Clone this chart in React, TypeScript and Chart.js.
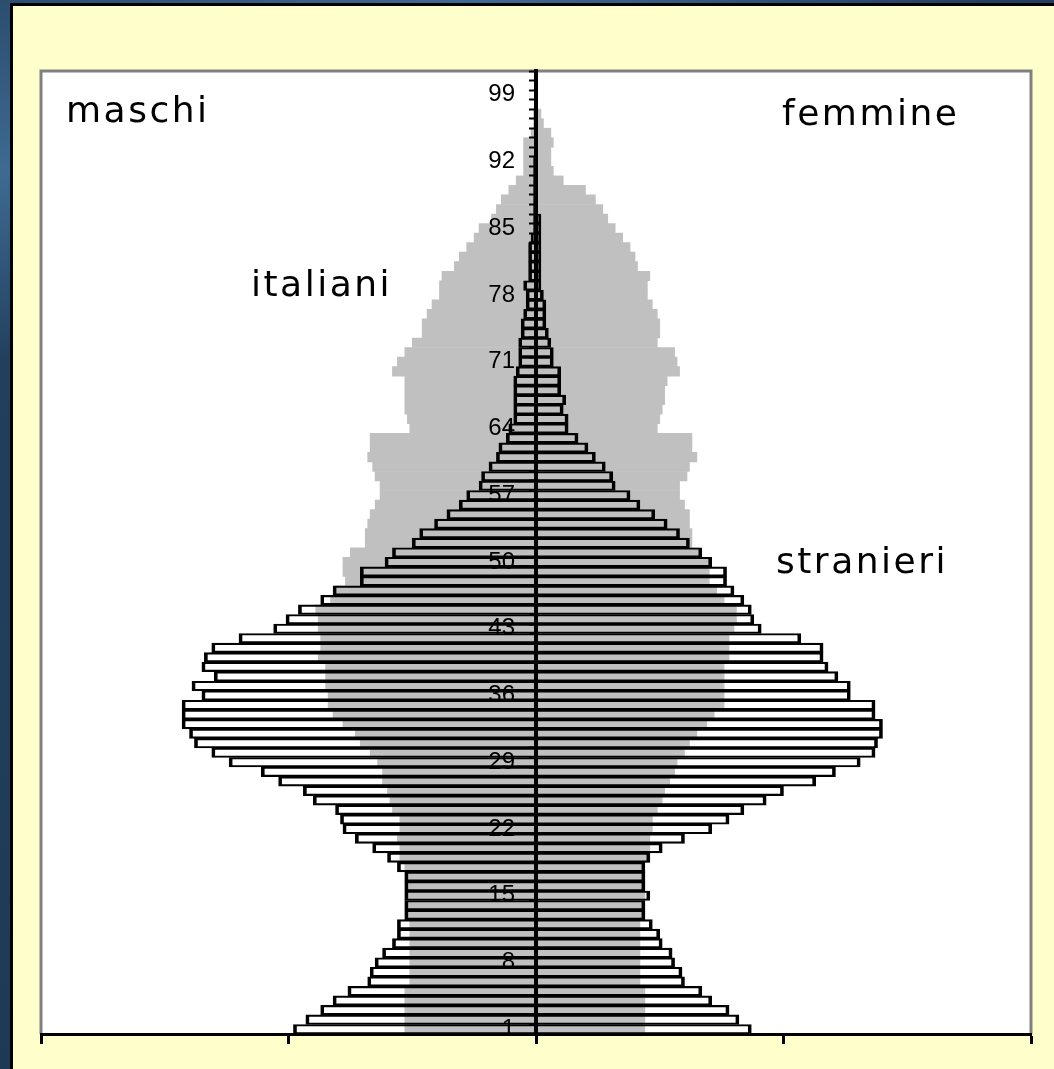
import React, { useEffect, useRef } from "react";
import { Chart, registerables } from "chart.js";

Chart.register(...registerables);

// Age classes (years), bottom to top
const AGES: string[] = Array.from({ length: 101 }, (_, i) => String(i + 1));
const AGE_TICK_LABELS = ["1", "8", "15", "22", "29", "36", "43", "50", "57", "64", "71", "78", "85", "92", "99"];

// Italiani (grey area), % per single year of age
const ITALIANI_MASCHI = [
  0.53, 0.53, 0.53, 0.53, 0.53, 0.51, 0.51, 0.51, 0.51, 0.51,
  0.51, 0.51, 0.53, 0.53, 0.53, 0.53, 0.53, 0.53, 0.55, 0.55,
  0.56, 0.55, 0.55, 0.58, 0.59, 0.60, 0.62, 0.62, 0.64, 0.67,
  0.71, 0.73, 0.78, 0.82, 0.84, 0.84, 0.85, 0.85, 0.85, 0.88,
  0.87, 0.87, 0.88, 0.88, 0.89, 0.83, 0.81, 0.77, 0.78, 0.78,
  0.75, 0.69, 0.69, 0.68, 0.67, 0.65, 0.63, 0.63, 0.65, 0.66,
  0.68, 0.67, 0.67, 0.51, 0.52, 0.53, 0.53, 0.53, 0.53, 0.58,
  0.56, 0.53, 0.50, 0.46, 0.46, 0.44, 0.42, 0.39, 0.39, 0.38,
  0.33, 0.31, 0.28, 0.25, 0.23, 0.18, 0.16, 0.14, 0.11, 0.08,
  0.05, 0.05, 0.05, 0.05, 0.02, 0.01, 0.01, 0, 0, 0, 0,
];
const ITALIANI_FEMMINE = [
  0.44, 0.44, 0.44, 0.44, 0.44, 0.42, 0.42, 0.42, 0.42, 0.42,
  0.42, 0.42, 0.44, 0.44, 0.44, 0.44, 0.44, 0.43, 0.46, 0.46,
  0.46, 0.47, 0.47, 0.49, 0.51, 0.52, 0.54, 0.56, 0.57, 0.60,
  0.62, 0.65, 0.69, 0.72, 0.76, 0.76, 0.76, 0.76, 0.76, 0.78,
  0.78, 0.78, 0.80, 0.81, 0.81, 0.76, 0.73, 0.70, 0.70, 0.70,
  0.66, 0.63, 0.63, 0.62, 0.62, 0.60, 0.58, 0.58, 0.61, 0.62,
  0.65, 0.63, 0.63, 0.49, 0.50, 0.51, 0.52, 0.52, 0.53, 0.58,
  0.57, 0.56, 0.49, 0.50, 0.50, 0.49, 0.47, 0.45, 0.45, 0.46,
  0.41, 0.40, 0.38, 0.35, 0.32, 0.29, 0.27, 0.24, 0.20, 0.11,
  0.07, 0.06, 0.06, 0.07, 0.06, 0.03, 0.02, 0, 0, 0, 0,
];

// Stranieri (outlined bars), % per single year of age
const STRANIERI_MASCHI = [
  0.98, 0.93, 0.87, 0.82, 0.76, 0.68, 0.67, 0.65, 0.62, 0.58,
  0.56, 0.56, 0.53, 0.53, 0.53, 0.53, 0.53, 0.56, 0.60, 0.66,
  0.73, 0.78, 0.79, 0.81, 0.90, 0.94, 1.04, 1.11, 1.24, 1.31,
  1.38, 1.40, 1.43, 1.43, 1.43, 1.35, 1.39, 1.30, 1.35, 1.34,
  1.31, 1.20, 1.06, 1.01, 0.96, 0.87, 0.82, 0.71, 0.71, 0.61,
  0.58, 0.50, 0.47, 0.41, 0.36, 0.31, 0.28, 0.23, 0.22, 0.19,
  0.16, 0.15, 0.12, 0.11, 0.09, 0.09, 0.09, 0.09, 0.09, 0.08,
  0.07, 0.07, 0.07, 0.06, 0.06, 0.05, 0.04, 0.04, 0.05, 0.03,
  0.03, 0.03, 0.03, 0.02, 0.01, 0.01, 0.01, 0.01, 0.01, 0.01,
  0.01, 0.01, 0.005, 0.005, 0.005, 0.005, 0.005, 0, 0, 0, 0,
];
const STRANIERI_FEMMINE = [
  0.87, 0.82, 0.78, 0.71, 0.67, 0.60, 0.59, 0.56, 0.55, 0.51,
  0.50, 0.47, 0.44, 0.44, 0.46, 0.44, 0.44, 0.44, 0.46, 0.51,
  0.60, 0.71, 0.78, 0.84, 0.93, 1.00, 1.13, 1.21, 1.31, 1.37,
  1.38, 1.40, 1.40, 1.37, 1.37, 1.27, 1.27, 1.22, 1.18, 1.16,
  1.16, 1.07, 0.91, 0.88, 0.87, 0.84, 0.80, 0.77, 0.77, 0.71,
  0.67, 0.62, 0.58, 0.53, 0.48, 0.42, 0.38, 0.32, 0.31, 0.28,
  0.24, 0.21, 0.17, 0.13, 0.13, 0.11, 0.12, 0.10, 0.10, 0.10,
  0.07, 0.07, 0.06, 0.05, 0.04, 0.04, 0.04, 0.03, 0.02, 0.02,
  0.02, 0.02, 0.02, 0.02, 0.02, 0.02, 0.005, 0.005, 0.005, 0.005,
  0.005, 0.005, 0.005, 0.005, 0.005, 0.005, 0.005, 0, 0, 0, 0,
];

const X_MIN = -2;
const X_MAX = 2;

const ANNOTATIONS = [
  { text: "maschi", x: 66, y: 122 },
  { text: "femmine", x: 782, y: 125 },
  { text: "italiani", x: 251, y: 296 },
  { text: "stranieri", x: 776, y: 573 },
];

const plotBackground = {
  id: "plotBackground",
  beforeDraw(chart: any) {
    const { ctx, chartArea } = chart;
    const { left, top, right, bottom } = chartArea;
    ctx.save();
    ctx.fillStyle = "#ffffff";
    ctx.fillRect(left, top, right - left, bottom - top);
    ctx.strokeStyle = "#808080";
    ctx.lineWidth = 3;
    ctx.beginPath();
    ctx.moveTo(left, bottom);
    ctx.lineTo(left, top);
    ctx.lineTo(right, top);
    ctx.lineTo(right, bottom);
    ctx.stroke();
    ctx.restore();
  },
};

const annotationText = {
  id: "annotationText",
  afterDraw(chart: any) {
    const { ctx } = chart;
    ctx.save();
    ctx.fillStyle = "#000000";
    ctx.font = '36px "DejaVu Sans"';
    (ctx as any).letterSpacing = "2.5px";
    ctx.textAlign = "left";
    ctx.textBaseline = "alphabetic";
    for (const a of ANNOTATIONS) ctx.fillText(a.text, a.x, a.y);
    ctx.restore();
  },
};

export default function App() {
  const canvasRef = useRef<HTMLCanvasElement | null>(null);

  useEffect(() => {
    if (!canvasRef.current) return;
    const strBorder = { top: 1.5, bottom: 1.5, left: 3, right: 3 };
    const chart = new Chart(canvasRef.current, {
      type: "bar",
      data: {
        labels: AGES,
        datasets: [
          {
            label: "stranieri maschi",
            data: STRANIERI_MASCHI.map((v) => -v),
            backgroundColor: "rgba(0,0,0,0)",
            borderColor: "#000000",
            borderWidth: strBorder,
            grouped: false,
            order: 1,
            categoryPercentage: 1,
            barPercentage: 1,
          },
          {
            label: "stranieri femmine",
            data: STRANIERI_FEMMINE,
            backgroundColor: "rgba(0,0,0,0)",
            borderColor: "#000000",
            borderWidth: strBorder,
            grouped: false,
            order: 1,
            categoryPercentage: 1,
            barPercentage: 1,
          },
          {
            label: "italiani maschi",
            data: ITALIANI_MASCHI.map((v) => -v),
            backgroundColor: "#C0C0C0",
            borderWidth: 0,
            grouped: false,
            order: 2,
            categoryPercentage: 1,
            barPercentage: 1,
          },
          {
            label: "italiani femmine",
            data: ITALIANI_FEMMINE,
            backgroundColor: "#C0C0C0",
            borderWidth: 0,
            grouped: false,
            order: 2,
            categoryPercentage: 1,
            barPercentage: 1,
          },
        ] as any,
      },
      options: {
        indexAxis: "y",
        animation: false,
        responsive: false,
        maintainAspectRatio: false,
        layout: { padding: { left: 41, right: 23, top: 71, bottom: 25 } },
        plugins: {
          legend: { display: false },
          tooltip: { enabled: false },
        },
        scales: {
          x: {
            type: "linear",
            min: X_MIN,
            max: X_MAX,
            ticks: { stepSize: 1, display: false },
            grid: {
              display: true,
              drawOnChartArea: false,
              drawTicks: true,
              tickLength: 10,
              tickWidth: 3,
              tickColor: "#000000",
            },
            border: { display: true, color: "#000000", width: 3, z: 1 },
          },
          y: {
            type: "category",
            position: "center",
            reverse: true,
            ticks: {
              autoSkip: false,
              padding: 16,
              z: 2,
              color: "#000000",
              font: { family: '"Liberation Sans", Arial, sans-serif', size: 24 },
              callback: (_v: any, idx: number) =>
                AGE_TICK_LABELS.includes(AGES[idx]) ? AGES[idx] : "",
            },
            grid: {
              display: true,
              z: 1,
              drawOnChartArea: false,
              drawTicks: true,
              tickLength: 5,
              tickWidth: 2,
              tickColor: "#000000",
            },
            border: { display: true, color: "#000000", width: 4, z: 1 },
          },
        },
      } as any,
      plugins: [plotBackground, annotationText],
    });
    return () => chart.destroy();
  }, []);

  return (
    <div
      style={{
        position: "fixed",
        left: 0,
        top: 0,
        width: 1054,
        height: 1069,
        background: "linear-gradient(160deg, #2c4d6e 0%, #3f6a92 12%, #22405e 25%, #1c3652 100%)",
        overflow: "hidden",
      }}
    >
      <div
        style={{
          position: "absolute",
          left: 10,
          top: 3,
          right: 0,
          bottom: 0,
          background: "#FFFFCC",
          borderLeft: "3px solid #000",
          borderTop: "3px solid #000",
        }}
      />
      <canvas
        ref={canvasRef}
        width={1054}
        height={1069}
        style={{ position: "absolute", left: 0, top: 0, width: 1054, height: 1069 }}
      />
    </div>
  );
}
